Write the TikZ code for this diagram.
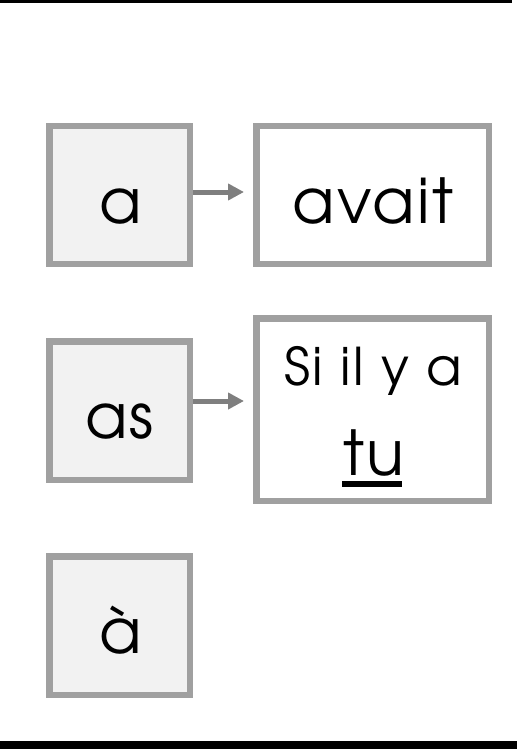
\documentclass[tikz,border=0pt]{standalone}
\usepackage{fontspec}
\setmainfont{TeX Gyre Adventor}
\newfontfamily\gfont[LetterSpace=4]{TeX Gyre Adventor}
\usetikzlibrary{arrows.meta}
\definecolor{bord}{HTML}{A0A0A0}
\definecolor{fillg}{HTML}{F2F2F2}
\definecolor{arrc}{HTML}{7F7F7F}
\newcommand{\wsp}{\hspace{17.5pt}}
\begin{document}
\begin{tikzpicture}[x=1pt,y=-1pt,
  box/.style={draw=bord, line width=6.5pt, inner sep=0pt, minimum width=140.5pt, minimum height=137.5pt},
  wbox/.style={box, fill=white, minimum width=232.5pt},
  gbox/.style={box, fill=fillg},
  word/.style={anchor=base, inner sep=0pt, font=\gfont\fontsize{62}{62}\selectfont},
  small/.style={anchor=base, inner sep=0pt, font=\gfont\fontsize{52}{52}\selectfont},
  arr/.style={draw=arrc, line width=5pt, -{Triangle[length=16pt,width=16pt]}, shorten >=9pt}]
\useasboundingbox (0,0) rectangle (517,749);
\fill[black] (0,0) rectangle (512,3);
\fill[black] (0,741) rectangle (517,749);
\node[gbox] (a) at (119.5,195) {};
\node[wbox] (avait) at (372.5,195) {};
\node[gbox, minimum height=138.5pt] (as) at (119.5,410.5) {};
\node[wbox, minimum height=182.5pt] (si) at (372.5,409.5) {};
\node[gbox, minimum height=138.5pt] (agrave) at (119.5,625.5) {};
\node[word] (ta) at (121,223) {a};
\node[word] (tavait) at (373,223) {avait};
\node[word] (tas) at (119.5,438) {as};
\node[small] (tsi) at (373.5,385) {Si\wsp il\wsp y\wsp a};
\node[word] (ttu) at (374,475) {tu};
\node[word] (tagrave) at (121,653) {à};
\path (372,484) coordinate (ulc) ++(-30,0) coordinate (ul1) ++(60,0) coordinate (ul2);
\draw[line width=5.5pt] (ul1) -- (ul2);
\draw[arr] ([yshift=3pt]a.east) -- ([yshift=3pt]a.east -| avait.west);
\draw[arr] ([yshift=9.5pt]as.east) -- ([yshift=9.5pt]as.east -| si.west);
\end{tikzpicture}
\end{document}
